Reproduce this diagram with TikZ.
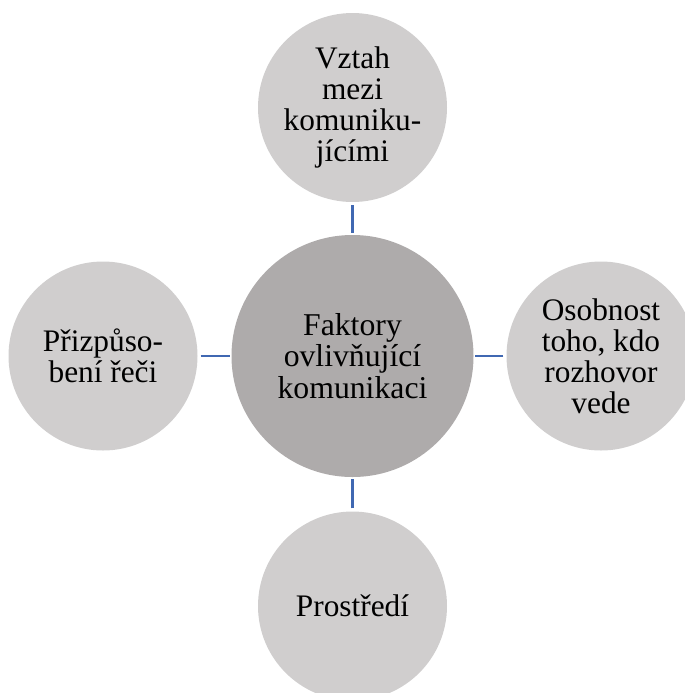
\documentclass[tikz,border=0pt]{standalone}
\usepackage{fontspec}
\setmainfont{Liberation Serif}
\definecolor{outerfill}{HTML}{D0CECE}
\definecolor{centerfill}{HTML}{AEABAB}
\definecolor{connblue}{HTML}{4068B2}
\begin{document}
\begin{tikzpicture}[x=0.75pt,y=-0.75pt,
  outer/.style={circle, fill=outerfill, minimum size=141.75pt, inner sep=0pt, align=center,
    font=\fontsize{23.5pt}{23.2pt}\selectfont, text=black},
  hub/.style={circle, fill=centerfill, minimum size=181.5pt, inner sep=0pt, align=center,
    font=\fontsize{23.8pt}{23.6pt}\selectfont, text=black},
  conn/.style={draw=connblue, line width=1.7pt, shorten <=2.2pt, shorten >=1pt}]
\useasboundingbox (0,0) rectangle (685,693);
\begin{scope}
\clip (0,0) rectangle (685,693);
\node[hub] (C) at (352.5,356) {Faktory\\ovlivňující\\komunikaci};
\node[outer] (T) at (352.5,107.5) {Vztah\\mezi\\komuniku-\\jícími};
\node[outer] (L) at (103,356) {Přizpůso-\\bení řeči};
\node[outer] (R) at (601,356) {Osobnost\\toho, kdo\\rozhovor\\vede};
\node[outer] (B) at (352.5,606) {Prostředí};
\draw[conn] (T) -- (C);
\draw[conn] (L) -- (C);
\draw[conn] (R) -- (C);
\draw[conn] (B) -- (C);
\end{scope}
\end{tikzpicture}
\end{document}
